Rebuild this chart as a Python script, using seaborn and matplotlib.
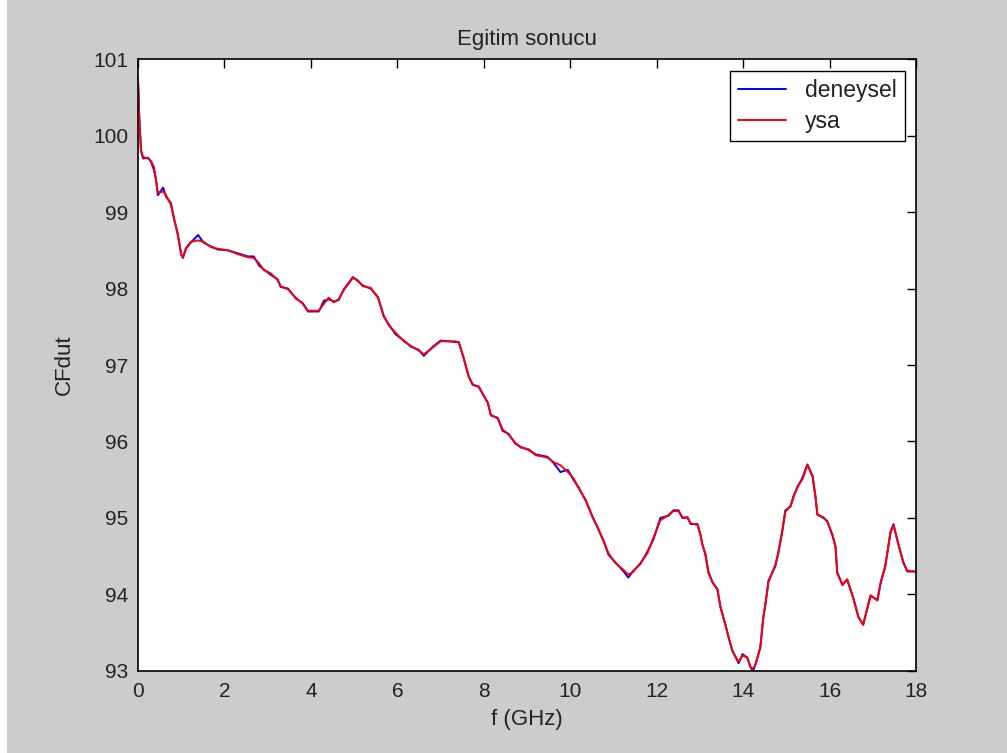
import pandas as pd
import matplotlib.pyplot as plt
import seaborn as sns
from matplotlib.patches import Rectangle

# Frequency grid (GHz)
f_ghz = [0.0, 0.03, 0.07, 0.12, 0.23, 0.30, 0.37, 0.42, 0.46, 0.58, 0.65, 0.76, 0.83, 0.92,
         1.00, 1.04, 1.11, 1.22, 1.39, 1.52, 1.69, 1.85, 2.08, 2.31, 2.54, 2.68, 2.80, 2.91,
         3.07, 3.23, 3.30, 3.47, 3.65, 3.81, 3.93, 4.18, 4.30, 4.41, 4.53, 4.64, 4.76, 4.97,
         5.08, 5.20, 5.38, 5.55, 5.68, 5.80, 5.96, 6.15, 6.31, 6.49, 6.61, 6.82, 7.00, 7.35,
         7.42, 7.53, 7.65, 7.74, 7.88, 7.97, 8.09, 8.16, 8.32, 8.43, 8.57, 8.73, 8.85, 9.03,
         9.20, 9.47, 9.61, 9.77, 9.94, 10.07, 10.19, 10.35, 10.51, 10.63, 10.77, 10.88, 11.04,
         11.23, 11.34, 11.44, 11.62, 11.78, 11.92, 12.08, 12.27, 12.38, 12.50, 12.59, 12.71,
         12.78, 12.94, 13.01, 13.05, 13.12, 13.19, 13.29, 13.40, 13.47, 13.59, 13.66, 13.75,
         13.89, 13.98, 14.09, 14.16, 14.22, 14.28, 14.39, 14.46, 14.51, 14.58, 14.74, 14.81,
         14.90, 14.97, 15.09, 15.16, 15.25, 15.36, 15.48, 15.60, 15.67, 15.71, 15.85, 15.94,
         16.06, 16.13, 16.17, 16.29, 16.40, 16.54, 16.66, 16.77, 16.94, 17.10, 17.17, 17.28,
         17.40, 17.47, 17.58, 17.70, 17.79, 18.00]

# Network output (red)
ysa = [100.75, 100.23, 99.81, 99.72, 99.70, 99.67, 99.59, 99.40, 99.25, 99.27, 99.22, 99.10,
       98.93, 98.70, 98.45, 98.41, 98.53, 98.61, 98.63, 98.61, 98.54, 98.52, 98.50, 98.45,
       98.41, 98.40, 98.33, 98.24, 98.20, 98.11, 98.03, 97.99, 97.88, 97.80, 97.71, 97.71,
       97.80, 97.88, 97.82, 97.86, 97.98, 98.14, 98.11, 98.03, 98.01, 97.88, 97.65, 97.52,
       97.42, 97.31, 97.25, 97.19, 97.14, 97.23, 97.31, 97.31, 97.29, 97.10, 96.84, 96.75,
       96.71, 96.63, 96.50, 96.35, 96.30, 96.16, 96.09, 95.98, 95.92, 95.90, 95.82, 95.79,
       95.73, 95.69, 95.60, 95.52, 95.39, 95.24, 95.01, 94.88, 94.69, 94.54, 94.41, 94.32,
       94.26, 94.29, 94.41, 94.54, 94.74, 94.97, 95.04, 95.09, 95.09, 95.01, 95.00, 94.93,
       94.91, 94.78, 94.65, 94.54, 94.28, 94.16, 94.06, 93.84, 93.58, 93.44, 93.25, 93.12,
       93.20, 93.18, 93.05, 93.03, 93.08, 93.31, 93.69, 93.89, 94.16, 94.39, 94.54, 94.84,
       95.08, 95.16, 95.27, 95.41, 95.50, 95.69, 95.54, 95.27, 95.04, 95.01, 94.95, 94.78,
       94.62, 94.29, 94.12, 94.20, 93.95, 93.71, 93.60, 93.99, 93.92, 94.15, 94.36, 94.82,
       94.91, 94.67, 94.41, 94.31, 94.30]

# Measured data (blue), mostly hidden under the red trace
deneysel = [100.75, 100.25, 99.80, 99.70, 99.71, 99.66, 99.55, 99.42, 99.22, 99.32, 99.20, 99.12,
            98.92, 98.72, 98.44, 98.40, 98.52, 98.60, 98.70, 98.60, 98.55, 98.51, 98.50, 98.46,
            98.42, 98.42, 98.30, 98.25, 98.18, 98.12, 98.02, 98.00, 97.87, 97.81, 97.70, 97.70,
            97.84, 97.86, 97.83, 97.85, 97.99, 98.15, 98.10, 98.04, 98.00, 97.89, 97.64, 97.53,
            97.40, 97.32, 97.24, 97.20, 97.12, 97.24, 97.32, 97.30, 97.30, 97.09, 96.85, 96.74,
            96.72, 96.62, 96.51, 96.34, 96.31, 96.14, 96.10, 95.97, 95.93, 95.89, 95.83, 95.80,
            95.72, 95.60, 95.63, 95.50, 95.40, 95.23, 95.02, 94.87, 94.70, 94.52, 94.42, 94.30,
            94.22, 94.30, 94.40, 94.56, 94.72, 95.00, 95.03, 95.10, 95.10, 95.00, 95.01, 94.92,
            94.92, 94.77, 94.66, 94.52, 94.30, 94.15, 94.07, 93.83, 93.60, 93.43, 93.26, 93.10,
            93.22, 93.17, 93.06, 92.99, 93.09, 93.30, 93.70, 93.87, 94.18, 94.37, 94.56, 94.82,
            95.10, 95.15, 95.29, 95.40, 95.52, 95.70, 95.55, 95.26, 95.05, 95.00, 94.96, 94.77,
            94.63, 94.28, 94.13, 94.19, 93.96, 93.70, 93.61, 93.98, 93.93, 94.14, 94.37, 94.80,
            94.92, 94.66, 94.42, 94.30, 94.30]

df = pd.concat([
    pd.DataFrame({'f': f_ghz, 'CFdut': deneysel, 'seri': 'deneysel'}),
    pd.DataFrame({'f': f_ghz, 'CFdut': ysa, 'seri': 'ysa'}),
])

sns.set_style('white')
plt.rcParams['font.family'] = ['Liberation Sans', 'DejaVu Sans']
plt.rcParams['font.size'] = 16

fig = plt.figure(figsize=(10.07, 7.53), dpi=100, facecolor='#cccccc')
ax = fig.add_axes([0.137, 0.109, 0.773, 0.8125])
ax.set_facecolor('white')
# thin white strip along the left edge of the original screenshot
fig.patches.append(Rectangle((0, 0), 7 / 1007, 1, transform=fig.transFigure,
                             facecolor='white', edgecolor='none', zorder=-1))

sns.lineplot(data=df, x='f', y='CFdut', hue='seri', sort=False, estimator=None,
             palette={'deneysel': '#0000ff', 'ysa': '#ff0000'}, linewidth=1.4, ax=ax)

ax.set_xlim(0, 18)
ax.set_ylim(93, 101)
ax.set_xticks(range(0, 19, 2))
ax.set_yticks(range(93, 102))

for side in ['left', 'right', 'top', 'bottom']:
    ax.spines[side].set_visible(True)
    ax.spines[side].set_color('black')
    ax.spines[side].set_linewidth(1.2)
ax.tick_params(direction='in', length=6.5, width=1, colors='black', labelcolor='#222222',
               top=True, right=True, labelsize=15)
ax.tick_params(axis='x', pad=8)
ax.tick_params(axis='y', pad=7)

ax.set_title('Egitim sonucu', fontsize=16, pad=10, color='#222222')
ax.set_xlabel('f (GHz)', fontsize=16, labelpad=6, color='#222222')
ax.set_ylabel('CFdut', fontsize=16, labelpad=13, color='#222222')

leg = ax.legend(loc='upper right', frameon=True, fancybox=False, edgecolor='black',
                framealpha=1, borderaxespad=0.5, handlelength=2.1, handletextpad=0.85,
                fontsize=16.5, borderpad=0.35, labelspacing=0.35)
leg.get_frame().set_linewidth(1.0)
for line in leg.get_lines():
    line.set_linewidth(1.4)
for txt in leg.get_texts():
    txt.set_color('#222222')

fig.savefig('out.png', dpi=100, facecolor=fig.get_facecolor())
